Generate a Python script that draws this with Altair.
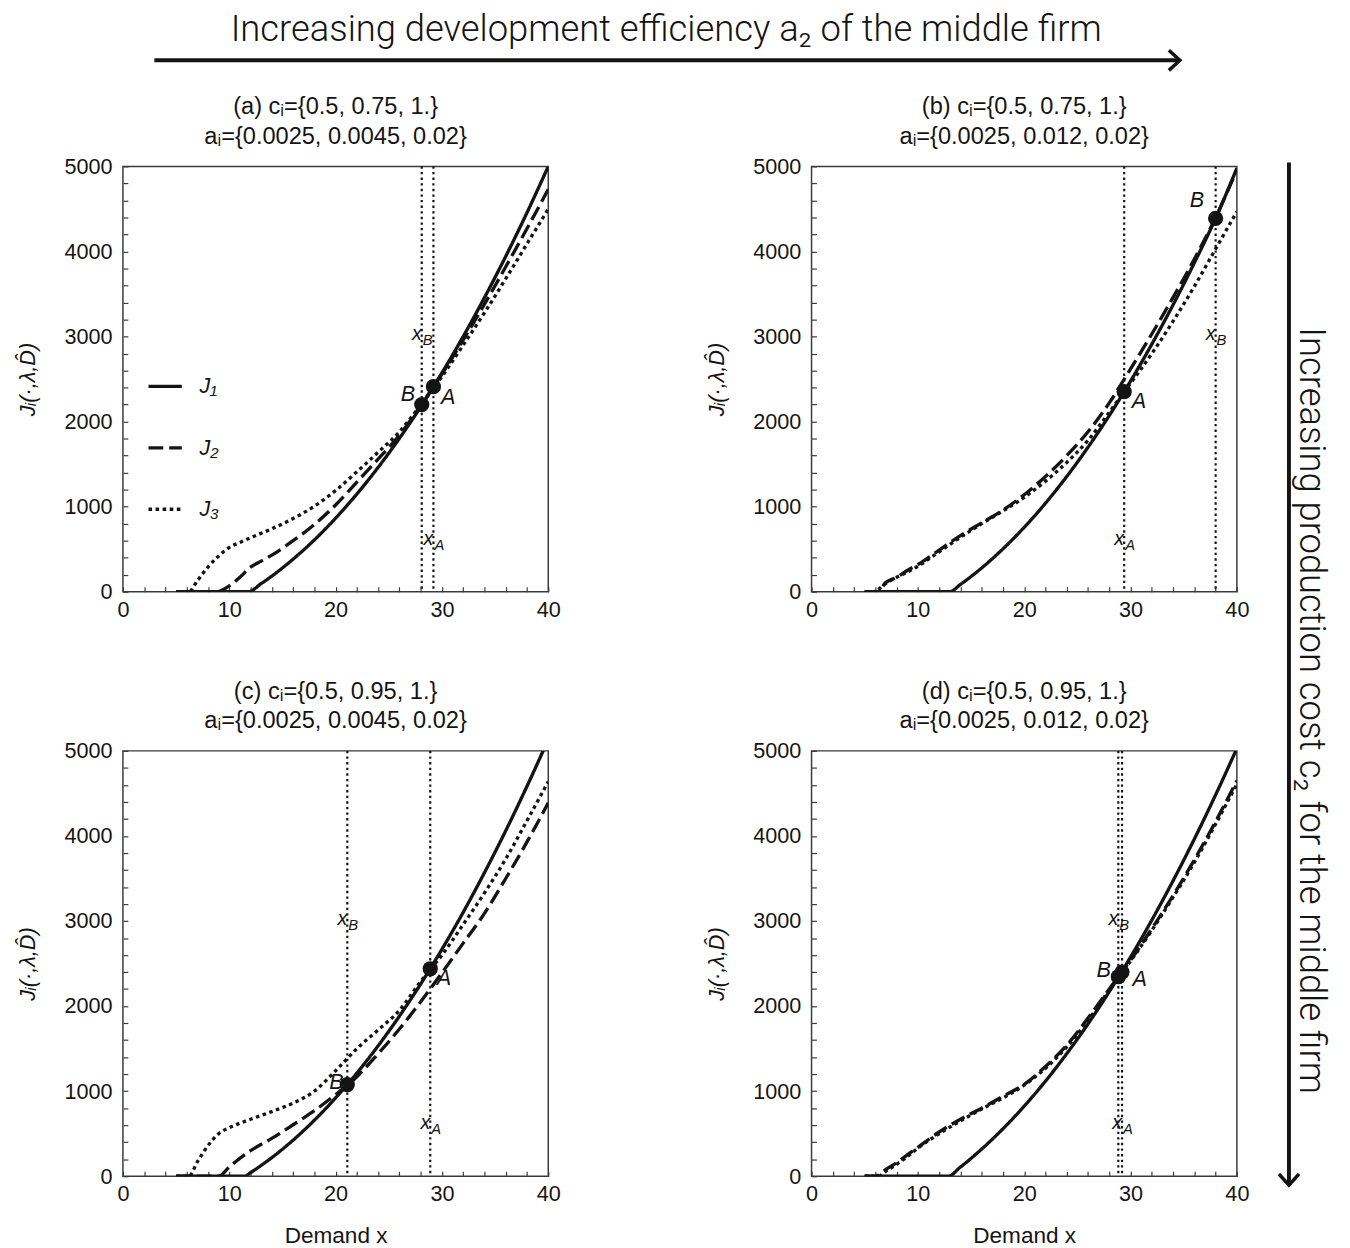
import altair as alt
import pandas as pd

FONT = "Liberation Sans"
BANNER_FONT = "Roboto"
INK = "#141414"
FRAME = "#3a3a3a"

SERIES = ["J₁", "J₂", "J₃"]
DASHES = [[1, 0], [15, 6], [3.6, 3.6]]

X_TICKS = list(range(0, 41, 2))
Y_TICKS = list(range(0, 5001, 200))

TOP_TEXT = "Increasing development efficiency a₂ of the middle firm"
SIDE_TEXT = "Increasing production cost c₂ for the middle firm"
Y_TITLE = "Jᵢ(·,λ,D̂)"
X_TITLE = "Demand x"

# ---- panel (a)
a_J1_x = [5, 11.8, 13, 14, 16, 18, 20, 22, 24, 26, 28, 30, 32, 34, 36, 38, 40]
a_J1_y = [0, 0, 96, 184, 383, 609, 865, 1149, 1462, 1803, 2174, 2573, 3001, 3458, 3943, 4457, 5000]
a_J2_x = [5, 8.8, 10, 11, 12, 13, 14, 16, 18, 20, 22, 24, 26, 28, 30, 32, 34, 36, 38, 40]
a_J2_y = [0, 0, 70, 170, 290, 360, 430, 600, 790, 1020, 1290, 1560, 1840, 2190, 2560, 2960, 3380, 3820, 4270, 4730]
a_J3_x = [5, 6.2, 7, 8, 9, 10, 11, 12, 14, 16, 18, 20, 22, 24, 26, 28, 30, 32, 34, 36, 38, 40]
a_J3_y = [0, 0, 130, 290, 420, 520, 580, 635, 740, 860, 1005, 1190, 1410, 1640, 1880, 2195, 2530, 2900, 3280, 3680, 4090, 4500]
a_A = [29.2, 2410]
a_B = [28.1, 2200]

# ---- panel (b)
b_J1_x = [5, 13, 14, 16, 18, 20, 22, 24, 26, 28, 30, 32, 34, 36, 38, 40]
b_J1_y = [0, 0, 86, 280, 504, 757, 1041, 1355, 1699, 2072, 2476, 2910, 3373, 3867, 4390, 4980]
b_J2_x = [5, 6.2, 7, 8, 9, 10, 12, 14, 16, 18, 20, 22, 24, 26, 28, 30, 32, 34, 36, 38, 40]
b_J2_y = [0, 0, 110, 170, 250, 320, 490, 660, 810, 960, 1140, 1355, 1600, 1880, 2220, 2620, 3030, 3460, 3910, 4400, 4960]
b_J3_x = [5, 5.8, 7, 8, 9, 10, 12, 14, 16, 18, 20, 22, 24, 26, 28, 29.4, 30, 32, 34, 36, 38, 40]
b_J3_y = [0, 0, 98, 170, 230, 300, 470, 640, 800, 950, 1110, 1300, 1520, 1780, 2110, 2350, 2450, 2800, 3180, 3590, 4030, 4470]
b_A = [29.4, 2352]
b_B = [38.0, 4390]

# ---- panel (c)
c_J1_x = [5, 11.45, 12, 14, 16, 18, 20, 22, 24, 26, 28, 30, 32, 34, 36, 38, 40]
c_J1_y = [0, 0, 43, 219, 424, 658, 921, 1212, 1533, 1882, 2260, 2668, 3103, 3569, 4062, 4585, 5135]
c_J2_x = [5, 9, 10, 12, 14, 16, 18, 20, 22, 24, 26, 28, 30, 32, 34, 36, 38, 40]
c_J2_y = [0, 0, 110, 300, 445, 605, 770, 960, 1170, 1440, 1730, 2050, 2390, 2740, 3090, 3500, 3930, 4390]
c_J3_x = [5, 6.2, 7, 8, 9, 10, 12, 14, 16, 18, 20, 22, 24, 26, 28, 30, 32, 34, 36, 38, 40]
c_J3_y = [0, 0, 170, 360, 500, 570, 670, 760, 860, 1000, 1240, 1500, 1720, 1950, 2290, 2600, 2960, 3330, 3730, 4180, 4640]
c_A = [28.9, 2439]
c_B = [21.1, 1077]

# ---- panel (d)
d_J1_x = [5, 12.85, 14, 16, 18, 20, 22, 24, 26, 28, 30, 32, 34, 36, 38, 40]
d_J1_y = [0, 0, 108, 319, 558, 824, 1118, 1441, 1791, 2170, 2576, 3011, 3474, 3964, 4483, 5029]
d_J2_x = [5, 6, 7, 8, 9, 10, 12, 14, 16, 18, 20, 22, 24, 26, 28, 29, 30, 32, 34, 36, 38, 40]
d_J2_y = [0, 0, 80, 160, 250, 340, 520, 670, 800, 940, 1080, 1290, 1540, 1860, 2200, 2370, 2540, 2910, 3300, 3720, 4170, 4650]
d_J3_x = [5, 6.3, 7, 8, 9, 10, 12, 14, 16, 18, 20, 22, 24, 26, 28, 29, 30, 32, 34, 36, 38, 40]
d_J3_y = [0, 0, 60, 140, 230, 330, 500, 650, 790, 920, 1070, 1270, 1520, 1830, 2190, 2360, 2530, 2890, 3280, 3690, 4140, 4610]
d_A = [29.2, 2400]
d_B = [28.85, 2345]

TITLE_C = {
    "a": "(a) cᵢ={0.5, 0.75, 1.}",
    "b": "(b) cᵢ={0.5, 0.75, 1.}",
    "c": "(c) cᵢ={0.5, 0.95, 1.}",
    "d": "(d) cᵢ={0.5, 0.95, 1.}",
}
TITLE_A = {
    "a": "aᵢ={0.0025, 0.0045, 0.02}",
    "b": "aᵢ={0.0025, 0.012, 0.02}",
    "c": "aᵢ={0.0025, 0.0045, 0.02}",
    "d": "aᵢ={0.0025, 0.012, 0.02}",
}

CURVES = {
    "a": [(a_J1_x, a_J1_y), (a_J2_x, a_J2_y), (a_J3_x, a_J3_y)],
    "b": [(b_J1_x, b_J1_y), (b_J2_x, b_J2_y), (b_J3_x, b_J3_y)],
    "c": [(c_J1_x, c_J1_y), (c_J2_x, c_J2_y), (c_J3_x, c_J3_y)],
    "d": [(d_J1_x, d_J1_y), (d_J2_x, d_J2_y), (d_J3_x, d_J3_y)],
}
POINTS = {"a": (a_A, a_B), "b": (b_A, b_B), "c": (c_A, c_B), "d": (d_A, d_B)}

# label placement (pixel offsets, style only)
LABEL_OFFSETS = {
    "a": {"A": (15, 11), "B": (-14, -11)},
    "b": {"A": (15, 10), "B": (-19, -18)},
    "c": {"A": (14, 10), "B": (-11, -3)},
    "d": {"A": (18, 7), "B": (-15, -7)},
}
XB_LABEL_Y = 3000
XA_LABEL_Y = 600

W = 433
H = 433


def make_panel(key, with_legend, with_xtitle):
    rows = []
    for name, (xs, ys) in zip(SERIES, CURVES[key]):
        for xv, yv in zip(xs, ys):
            rows.append({"series": name, "x": xv, "y": yv})
    df = pd.DataFrame(rows)

    xaxis_kw = dict(values=X_TICKS, labelExpr="datum.value % 10 === 0 ? datum.label : ''",
                    tickSize=5, offset=-5, domain=False, grid=False, labelPadding=8,
                    labelOverlap=False, labelFlush=False, tickColor=FRAME, tickWidth=1.2,
                    labelFont=FONT, labelFontSize=22, labelColor=INK)
    if with_xtitle:
        X = alt.X("x:Q", scale=alt.Scale(domain=[0, 40], nice=False, zero=False),
                  axis=alt.Axis(title=X_TITLE, titlePadding=20, titleFont=FONT, titleFontSize=23,
                                titleFontWeight="normal", titleColor=INK, **xaxis_kw))
    else:
        X = alt.X("x:Q", scale=alt.Scale(domain=[0, 40], nice=False, zero=False),
                  axis=alt.Axis(title=None, **xaxis_kw))
    Y = alt.Y("y:Q", scale=alt.Scale(domain=[0, 5000], nice=False),
              axis=alt.Axis(values=Y_TICKS, labelExpr="datum.value % 1000 === 0 ? datum.label : ''",
                            format="d", tickSize=5, offset=-5, domain=False, grid=False,
                            labelPadding=11, labelOverlap=False, labelFlush=False,
                            labelFont=FONT, labelFontSize=22, labelColor=INK,
                            tickColor=FRAME, tickWidth=1.2, title=Y_TITLE, titleFont=FONT,
                            titleFontSize=22, titleColor=INK,
                            titleFontStyle="italic", titleFontWeight="normal", titlePadding=25))

    if with_legend:
        leg = alt.Legend(title=None, orient="none", legendX=24, legendY=205, direction="vertical",
                         symbolType="stroke", symbolSize=1150, symbolStrokeWidth=3.4,
                         symbolStrokeColor=INK, labelFont=FONT, labelFontSize=22,
                         labelFontStyle="italic", labelColor=INK, labelOffset=16,
                         rowPadding=32.5, padding=0)
        dash = alt.StrokeDash("series:N", scale=alt.Scale(domain=SERIES, range=DASHES), legend=leg)
    else:
        dash = alt.StrokeDash("series:N", scale=alt.Scale(domain=SERIES, range=DASHES), legend=None)

    lines = alt.Chart(df).mark_line(clip=True, color=INK, strokeWidth=3.4, interpolate="monotone").encode(
        x=X, y=Y, strokeDash=dash, detail="series:N")

    A, B = POINTS[key]
    pdf = pd.DataFrame({"x": [A[0], B[0]], "y": [A[1], B[1]], "name": ["A", "B"]})
    rules = alt.Chart(pdf).mark_rule(color=INK, strokeWidth=2.2, strokeDash=[2.4, 3.3]).encode(x=X)
    dots = alt.Chart(pdf).mark_point(filled=True, size=240, color=INK, opacity=1).encode(x=X, y=Y)

    layers = [rules, lines, dots]
    for i, nm in enumerate(["A", "B"]):
        one = pdf.iloc[[i]]
        dx, dy = LABEL_OFFSETS[key][nm]
        layers.append(alt.Chart(one).mark_text(font=FONT, fontSize=22, fontStyle="italic", color=INK,
                                               align="center", baseline="middle", dx=dx, dy=dy).encode(
            x=X, y=Y, text="name:N"))
        ly = XA_LABEL_Y if nm == "A" else XB_LABEL_Y
        ldf = pd.DataFrame({"x": [one["x"].iloc[0]], "y": [ly], "main": ["x"], "sub": [nm]})
        layers.append(alt.Chart(ldf).mark_text(font=FONT, fontSize=20, fontStyle="italic", color=INK,
                                               align="center", baseline="middle", dx=-5, dy=-2).encode(
            x=X, y=Y, text="main:N"))
        layers.append(alt.Chart(ldf).mark_text(font=FONT, fontSize=15, fontStyle="italic", color=INK,
                                               align="center", baseline="middle", dx=6, dy=4).encode(
            x=X, y=Y, text="sub:N"))

    return alt.layer(*layers).properties(
        width=W, height=H,
        view=alt.ViewBackground(stroke=FRAME, strokeWidth=1.5),
        title=alt.TitleParams(text=[TITLE_C[key], TITLE_A[key]], font=FONT, fontSize=24,
                              fontWeight="normal", color=INK, lineHeight=30, offset=7,
                              anchor="middle", frame="group"),
    )


pa = make_panel("a", True, False)
pb = make_panel("b", False, False)
pc = make_panel("c", False, True)
pd_ = make_panel("d", False, True)

row1 = alt.hconcat(pa, pb, spacing=146).resolve_scale(strokeDash="independent").resolve_legend(strokeDash="independent")
row2 = alt.hconcat(pc, pd_, spacing=146).resolve_scale(strokeDash="independent").resolve_legend(strokeDash="independent")
grid = alt.vconcat(row1, row2, spacing=59).resolve_scale(strokeDash="independent").resolve_legend(strokeDash="independent")

tdf = pd.DataFrame({"label": [TOP_TEXT]})
banner = alt.layer(
    alt.Chart(tdf).mark_text(font=BANNER_FONT, fontSize=37, fontWeight=300, color=INK, align="center",
                             baseline="middle").encode(x=alt.value(553), y=alt.value(16), text="label:N"),
    alt.Chart(tdf).mark_rule(color=INK, strokeWidth=4).encode(x=alt.value(32), x2=alt.value(1074), y=alt.value(47)),
    alt.Chart(tdf).mark_point(shape="M-1.1,-1L0,0L-1.1,1", filled=False, color=INK, strokeWidth=3.5,
                              size=420, opacity=1).encode(x=alt.value(1076), y=alt.value(47)),
).properties(width=1240, height=66, view=alt.ViewBackground(stroke="transparent"))

sdf = pd.DataFrame({"label": [SIDE_TEXT]})
side = alt.layer(
    alt.Chart(sdf).mark_text(font=BANNER_FONT, fontSize=37, fontWeight=300, color=INK, align="center",
                             baseline="middle", angle=90).encode(x=alt.value(52), y=alt.value(554), text="label:N"),
    alt.Chart(sdf).mark_rule(color=INK, strokeWidth=4).encode(x=alt.value(30), y=alt.value(-4), y2=alt.value(1035)),
    alt.Chart(sdf).mark_point(shape="M-1,-1.1L0,0L1,-1.1", filled=False, color=INK, strokeWidth=3.5,
                              size=420, opacity=1).encode(x=alt.value(30), y=alt.value(1037)),
).properties(width=70, height=1037, view=alt.ViewBackground(stroke="transparent"))

body = alt.hconcat(grid, side, spacing=9).resolve_scale(strokeDash="independent").resolve_legend(strokeDash="independent")

chart = alt.vconcat(banner, body, spacing=15).resolve_scale(strokeDash="independent").resolve_legend(
    strokeDash="independent").properties(
    padding={"left": 8, "top": -9, "right": 0, "bottom": 0}, background="white"
).configure_view(stroke="transparent")

chart.save("out.html", embed_options={"renderer": "svg", "actions": False})
